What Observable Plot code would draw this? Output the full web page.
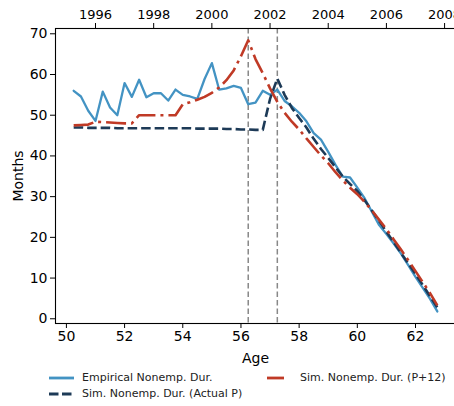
<!DOCTYPE html>
<html>
<head>
<meta charset="utf-8">
<script src="https://cdn.jsdelivr.net/npm/d3@7"></script>
<script src="https://cdn.jsdelivr.net/npm/@observablehq/plot@0.6"></script>
<style>
  html, body { margin: 0; padding: 0; background: white; overflow: hidden; width: 454px; height: 406px; }
  #wrap { position: relative; width: 454px; height: 406px; overflow: hidden; font-family: "DejaVu Sans", sans-serif; }
  #wrap > svg { max-width: none !important; display: block; }
  #legend { position: absolute; left: 0; top: 365px; width: 454px; height: 41px; font-size: 11px; color: #222; }
  .item { position: absolute; display: flex; align-items: center; white-space: nowrap; }
  .item svg { margin-right: 8px; }
</style>
</head>
<body>
<div id="wrap"></div>
<script>
const ages = [50.25, 50.5, 50.75, 51, 51.25, 51.5, 51.75, 52, 52.25, 52.5, 52.75, 53, 53.25, 53.5, 53.75, 54, 54.25, 54.5, 54.75, 55, 55.25, 55.5, 55.75, 56, 56.25, 56.5, 56.75, 57, 57.25, 57.5, 57.75, 58, 58.25, 58.5, 58.75, 59, 59.25, 59.5, 59.75, 60, 60.25, 60.5, 60.75, 61, 61.25, 61.5, 61.75, 62, 62.25, 62.5, 62.75];

const empirical = [56.0, 54.6, 51.1, 48.6, 55.8, 51.9, 50.0, 57.9, 54.5, 58.7, 54.4, 55.4, 55.4, 53.6, 56.3, 55.0, 54.6, 54.0, 58.9, 62.8, 56.3, 56.6, 57.2, 56.7, 52.7, 53.1, 56.0, 55.0, 56.3, 53.5, 52.2, 50.6, 48.5, 45.6, 44.0, 41.0, 37.8, 34.9, 34.7, 32.2, 29.6, 26.3, 23.0, 20.8, 18.5, 16.0, 13.2, 10.3, 7.6, 4.9, 1.8];

const simActualP = [47.0, 47.0, 46.9, 46.9, 46.9, 46.9, 46.8, 46.8, 46.8, 46.8, 46.8, 46.8, 46.8, 46.8, 46.8, 46.8, 46.8, 46.7, 46.7, 46.7, 46.7, 46.6, 46.6, 46.5, 46.5, 46.4, 46.4, 54.0, 59.0, 55.0, 51.8, 49.3, 47.0, 44.2, 41.7, 39.5, 37.2, 34.9, 33.1, 31.4, 29.1, 26.6, 24.0, 21.4, 18.8, 16.2, 13.6, 11.0, 8.3, 5.5, 2.8];

const simP12 = [47.5, 47.6, 47.7, 48.4, 48.3, 48.2, 48.1, 48.0, 48.0, 50.0, 50.0, 50.0, 50.0, 50.0, 50.0, 52.7, 53.2, 53.8, 54.5, 55.5, 56.8, 58.6, 61.0, 64.5, 68.4, 63.8, 60.3, 56.6, 53.3, 50.6, 48.4, 46.5, 44.3, 42.2, 40.1, 38.2, 36.0, 34.0, 32.2, 30.6, 28.7, 26.6, 24.3, 22.0, 19.5, 17.0, 14.4, 11.7, 9.0, 6.3, 3.3];

const markerAges = [56.25, 57.25];
const xTicks = [50, 52, 54, 56, 58, 60, 62];
const yTicks = [0, 10, 20, 30, 40, 50, 60, 70];
const topYears = [1996, 1998, 2000, 2002, 2004, 2006, 2008];
const yearOffset = 1945; // calendar year = age + 1945

const seriesNames = ["Empirical Nonemp. Dur.", "Sim. Nonemp. Dur. (Actual P)", "Sim. Nonemp. Dur. (P+12)"];
const colors = ["#4393c3", "#1d3a57", "#c03a26"];

const chart = Plot.plot({
  width: 462,
  height: 365,
  marginLeft: 55,
  marginRight: 7,
  marginTop: 28,
  marginBottom: 42,
  style: {fontFamily: "DejaVu Sans, sans-serif", fontSize: "13px", color: "black", background: "white", overflow: "visible", maxWidth: "none"},
  x: {domain: [49.625, 63.375]},
  y: {domain: [-1.16, 71.3]},
  marks: [
    Plot.ruleX(markerAges, {stroke: "#888", strokeWidth: 1.5, strokeDasharray: "5.5,3"}),
    Plot.line(ages, {x: ages, y: empirical, stroke: colors[0], strokeWidth: 2.3, strokeLinejoin: "round"}),
    Plot.line(ages, {x: ages, y: simActualP, stroke: colors[1], strokeWidth: 2.6, strokeDasharray: "9.5,4", strokeLinecap: "butt"}),
    Plot.line(ages, {x: ages, y: simP12, stroke: colors[2], strokeWidth: 2.6, strokeDasharray: "20,5,3,5", strokeLinecap: "butt"}),
    Plot.frame({stroke: "black", strokeWidth: 1.1}),
    Plot.axisX({anchor: "bottom", ticks: xTicks, tickSize: 5, tickPadding: 3, tickFormat: d => String(d), label: "Age", labelAnchor: "center", labelArrow: "none", labelOffset: 39, fontSize: 14}),
    Plot.axisX(topYears.map(y => y - yearOffset), {anchor: "top", tickSize: 6, tickPadding: 4, tickFormat: d => String(d + yearOffset), label: null}),
    Plot.axisY({anchor: "left", ticks: yTicks, tickSize: 5, tickPadding: 3, label: "Months", labelAnchor: "center", labelArrow: "none", labelOffset: 42, fontSize: 14})
  ]
});

const wrap = document.getElementById("wrap");
wrap.appendChild(chart);

const legend = document.createElement("div");
legend.id = "legend";
const items = [
  {name: seriesNames[0], color: colors[0], dash: null, left: 49, top: 6},
  {name: seriesNames[1], color: colors[1], dash: "9.5,3.5", left: 49, top: 22},
  {name: seriesNames[2], color: colors[2], dash: "17,40", left: 267, top: 6}
];
for (const it of items) {
  const d = document.createElement("div");
  d.className = "item";
  d.style.left = it.left + "px";
  d.style.top = it.top + "px";
  d.innerHTML = `<svg width="25" height="12"><line x1="0" x2="25" y1="6" y2="6" stroke="${it.color}" stroke-width="2.8" ${it.dash ? `stroke-dasharray="${it.dash}"` : ""}/></svg><span>${it.name}</span>`;
  legend.appendChild(d);
}
wrap.appendChild(legend);
</script>
</body>
</html>
